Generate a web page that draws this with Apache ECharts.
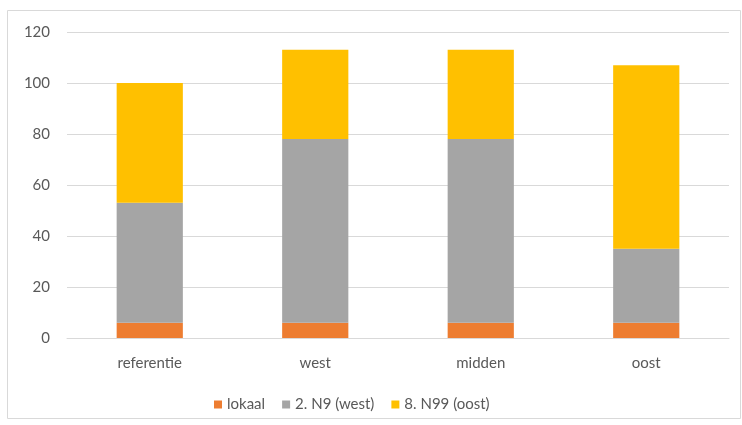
<!DOCTYPE html>
<html><head><meta charset="utf-8">
<script src="https://cdn.jsdelivr.net/npm/echarts@6/dist/echarts.min.js"></script>
<style>html,body{margin:0;padding:0;background:#fff}#c{width:742px;height:425px}</style>
</head><body><div id="c"></div>
<script>
const categories = ['referentie', 'west', 'midden', 'oost'];
const lokaal = [6, 6, 6, 6];
const n9West = [47, 72, 72, 29];
const n99Oost = [47, 35, 35, 72];
const seriesNames = ['lokaal', '2. N9 (west)', '8. N99 (oost)'];
const colors = ['#ED7D31', '#A5A5A5', '#FFC000'];

const chart = echarts.init(document.getElementById('c'), null, {renderer: 'canvas'});
const font = 'Lato, "Open Sans", sans-serif';
const mk = (name, data, i) => ({
  name, type: 'bar', stack: 't', data, barCategoryGap: '60%',
  itemStyle: {color: colors[i]}, emphasis: {disabled: true}
});
chart.setOption({
  animation: false,
  textStyle: {fontFamily: font},
  graphic: [{type: 'rect', shape: {x: 7.5, y: 10.5, width: 733, height: 408}, style: {fill: 'none', stroke: '#D9D9D9', lineWidth: 1}, silent: true}],
  grid: {left: 67, right: 13, top: 32, bottom: 87, containLabel: false},
  xAxis: {type: 'category', data: categories,
    axisLine: {lineStyle: {color: '#D9D9D9'}}, axisTick: {show: false},
    axisLabel: {color: '#595959', fontSize: 15, margin: 18, fontFamily: font}},
  yAxis: {type: 'value', min: 0, max: 120, interval: 20,
    axisLine: {show: false}, axisTick: {show: false},
    splitLine: {lineStyle: {color: '#D9D9D9'}},
    axisLabel: {color: '#595959', fontSize: 15, margin: 17, fontFamily: font}},
  legend: {bottom: 8, left: 209, itemWidth: 8, itemHeight: 8, itemGap: 17, icon: 'rect',
    textStyle: {color: '#595959', fontSize: 15, fontFamily: font},
    data: seriesNames},
  series: [mk(seriesNames[0], lokaal, 0), mk(seriesNames[1], n9West, 1), mk(seriesNames[2], n99Oost, 2)]
});
</script></body></html>
